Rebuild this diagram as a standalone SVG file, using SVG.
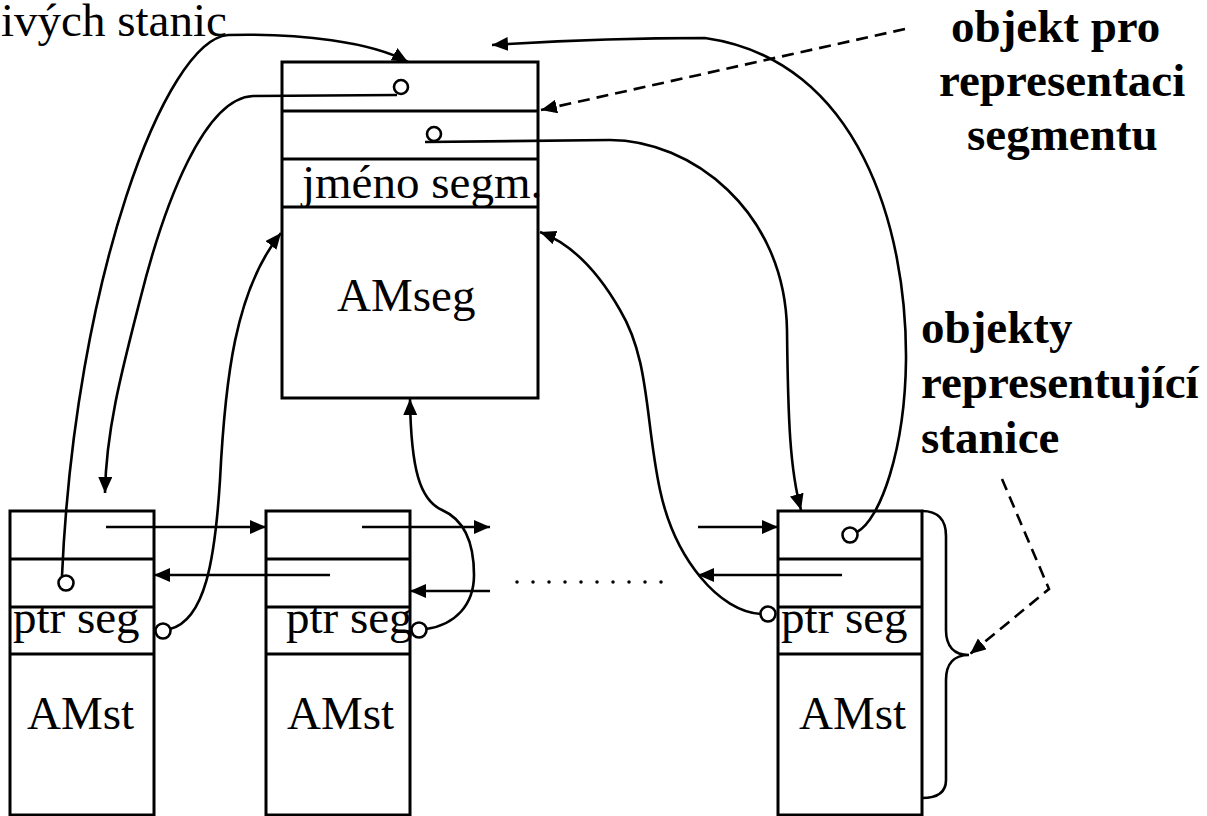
<svg xmlns="http://www.w3.org/2000/svg" width="1207" height="816" viewBox="0 0 1207 816">
  <style>
    .box { fill: #fff; stroke: #000; stroke-width: 3; }
    .div { stroke: #000; stroke-width: 3; fill: none; }
    .txt { font-family: "Liberation Serif", "Times New Roman", serif; font-size: 47px; fill: #000; }
    .lbl { font-family: "Liberation Serif", "Times New Roman", serif; font-size: 47px; font-weight: bold; fill: #000; }
    .ln { stroke: #000; stroke-width: 2.6; fill: none; }
    .arr { marker-end: url(#arrow); }
    .dash { stroke-dasharray: 12 7; }
    .pin { stroke: #000; stroke-width: 2.6; fill: none; }
    .dots { stroke: #000; stroke-width: 3.5; stroke-linecap: round; stroke-dasharray: 0 16; fill: none; }
  </style>
  <defs>
    <marker id="arrow" markerUnits="userSpaceOnUse" markerWidth="18" markerHeight="16" refX="16" refY="7" orient="auto">
      <path d="M0,0 L16,7 L0,14 z" fill="#000"/>
    </marker>
  </defs>

  <rect x="0" y="0" width="1207" height="816" fill="#fff"/>

  <!-- segment object -->
  <g id="seg-object">
    <rect class="box" x="282" y="62" width="256" height="336"/>
    <line class="div" x1="282" y1="111" x2="538" y2="111"/>
    <line class="div" x1="282" y1="159" x2="538" y2="159"/>
    <line class="div" x1="282" y1="207" x2="538" y2="207"/>
    <text class="txt" x="302" y="198">jméno segm.</text>
    <text class="txt" x="337" y="311">AMseg</text>
  </g>

  <!-- station objects -->
  <g id="station-1">
    <rect class="box" x="10" y="511" width="144" height="304"/>
    <line class="div" x1="10" y1="559" x2="154" y2="559"/>
    <line class="div" x1="10" y1="607" x2="154" y2="607"/>
    <line class="div" x1="10" y1="654" x2="154" y2="654"/>
    <text class="txt" x="13" y="633">ptr seg</text>
    <text class="txt" x="27" y="729">AMst</text>
  </g>
  <g id="station-2">
    <rect class="box" x="266" y="511" width="144" height="304"/>
    <line class="div" x1="266" y1="559" x2="410" y2="559"/>
    <line class="div" x1="266" y1="607" x2="410" y2="607"/>
    <line class="div" x1="266" y1="654" x2="410" y2="654"/>
    <text class="txt" x="286" y="633">ptr seg</text>
    <text class="txt" x="287" y="729">AMst</text>
  </g>
  <g id="station-3">
    <rect class="box" x="778" y="511" width="144" height="304"/>
    <line class="div" x1="778" y1="559" x2="922" y2="559"/>
    <line class="div" x1="778" y1="607" x2="922" y2="607"/>
    <line class="div" x1="778" y1="654" x2="922" y2="654"/>
    <text class="txt" x="781" y="633">ptr seg</text>
    <text class="txt" x="799" y="729">AMst</text>
    <!-- brace grouping the station object -->
    <path class="ln" d="M922 511 C938 511 946 520 946 536 L946 630 C946 646 954 655 969 655 C954 655 946 664 946 680 L946 780 C946 792 938 798 922 798"/>
  </g>

  <!-- captions -->
  <g id="captions">
    <text class="txt" x="1" y="36">ivých stanic</text>
    <text class="lbl" x="951" y="42">objekt pro</text>
    <text class="lbl" x="939" y="96">representaci</text>
    <text class="lbl" x="967" y="150">segmentu</text>
    <text class="lbl" x="921" y="343">objekty</text>
    <text class="lbl" x="921" y="398">representující</text>
    <text class="lbl" x="921" y="453">stanice</text>
  </g>

  <!-- connectors -->
  <g id="connectors">
    <!-- pointer pins -->
    <circle class="pin" cx="401" cy="87" r="7"/>
    <circle class="pin" cx="434" cy="134" r="7"/>
    <circle class="pin" cx="66" cy="583" r="7.5"/>
    <circle class="pin" cx="163" cy="631" r="7.5"/>
    <circle class="pin" cx="419" cy="630" r="7.5"/>
    <circle class="pin" cx="850" cy="535" r="7.5"/>
    <circle class="pin" cx="768" cy="614" r="7.5"/>

    <!-- first station -> segment top -->
    <path class="ln arr" d="M62 576 C75 280 165 40 228 35 C300 33 372 42 408 62"/>
    <!-- segment -> first station -->
    <path class="ln arr" d="M397 95 L253 96 C205 98 165 200 140 300 C122 370 106 430 105 493"/>
    <!-- first station ptr seg -> segment -->
    <path class="ln arr" d="M170 629 C205 620 215 560 220 480 C225 380 235 290 281 233"/>
    <!-- second station ptr seg -> segment -->
    <path class="ln arr" d="M426 629 C455 625 474 605 474 575 C474 545 465 520 442 510 C420 500 411 470 410 399"/>
    <!-- last station ptr seg -> segment -->
    <path class="ln arr" d="M761 614 C720 612 675 560 660 490 C645 420 650 360 620 310 C600 275 575 245 540 232"/>
    <!-- segment -> last station -->
    <path class="ln arr" d="M425 142 L610 140 C690 140 785 210 787 330 C788 420 790 470 801 510"/>
    <!-- last station -> segment top -->
    <path class="ln arr" d="M857 532 C880 520 905 450 906 360 C907 230 860 60 705 38 Q600 38 492 45"/>

    <!-- forward / backward links between stations -->
    <line class="ln arr" x1="106" y1="527" x2="266" y2="527"/>
    <line class="ln arr" x1="362" y1="527" x2="490" y2="527"/>
    <line class="ln arr" x1="330" y1="575" x2="154" y2="575"/>
    <line class="ln arr" x1="490" y1="591" x2="410" y2="591"/>
    <line class="ln arr" x1="698" y1="527" x2="778" y2="527"/>
    <line class="ln arr" x1="842" y1="575" x2="698" y2="575"/>
    <line class="dots" x1="517" y1="582" x2="664" y2="582"/>

    <!-- label pointers -->
    <path class="ln arr dash" d="M905 29 L541 110"/>
    <path class="ln arr dash" d="M1002 479 L1049 589 L970 654"/>
  </g>
</svg>
